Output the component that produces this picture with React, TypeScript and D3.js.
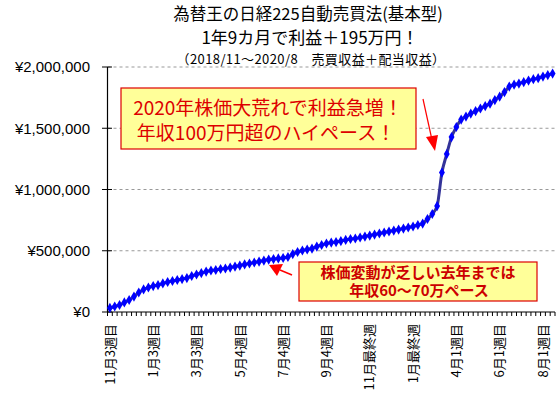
import React from 'react'
import * as d3 from 'd3'

// weekly cumulative profit (unit: 万円), 2018/11 3rd week -> 2020/8
const profitMan = [
  3.3, 4.5, 5.7, 7.8, 9.8, 12.6, 15.9, 18.4, 20.0, 21.2,
  22.0, 23.3, 24.5, 25.3, 26.1, 26.9, 27.7, 29.4, 30.6, 31.8,
  33.0, 33.9, 34.3, 35.1, 35.5, 36.3, 37.1, 37.9, 38.8, 39.6,
  40.4, 41.2, 42.0, 42.8, 43.2, 43.7, 44.1, 44.9, 47.3, 49.0,
  50.2, 51.0, 51.8, 53.4, 54.7, 55.9, 56.7, 57.1, 57.9, 58.8,
  59.6, 60.0, 60.8, 61.6, 62.4, 63.2, 64.1, 64.9, 65.7, 66.5,
  67.3, 68.1, 69.0, 69.8, 71.0, 72.2, 75.9, 80.0, 86.5, 113.8,
  128.9, 142.8, 151.0, 157.1, 159.5, 162.0, 164.0, 166.1, 168.1, 170.1,
  173.0, 175.8, 179.5, 184.0, 185.6, 186.5, 187.7, 188.9, 190.1, 190.9,
  192.2, 193.4, 194.6
]

// label shown every 9 weeks
const weekLabels = [
  '11月3週目', '1月3週目', '3月3週目', '5月4週目', '7月4週目', '9月4週目',
  '11月最終週', '1月最終週', '4月1週目', '6月1週目', '8月1週目'
]
const labelStep = 9

const yTicks = [0, 500000, 1000000, 1500000, 2000000]

const titleLines = [
  '為替王の日経225自動売買法(基本型)',
  '1年9カ月で利益＋195万円！',
  '（2018/11～2020/8　売買収益＋配当収益）'
]
const note1 = ['2020年株価大荒れで利益急増！', '年収100万円超のハイペース！']
const note2 = ['株価変動が乏しい去年までは', '年収60～70万ペース']

const W = 557
const H = 397
const jp = '"Noto Sans CJK JP", "Noto Sans", sans-serif'

export default function App() {
  const values = profitMan.map(v => v * 10000)
  const idx = values.map((_, i) => i)

  const x = d3.scaleBand<number>().domain(idx).range([107.5, 555]).padding(0)
  const cx = (i: number) => (x(i) as number) + x.bandwidth() / 2
  const y = d3.scaleLinear().domain([0, 2000000]).range([312, 67])

  const line = d3.line<number>()
    .x((_, i) => cx(i))
    .y(d => y(d))
    .curve(d3.curveMonotoneX)

  const diamond = d3.symbol().type(d3.symbolDiamond).size(30)()
  const fmt = (v: number) => '¥' + d3.format(',')(v)

  const x0 = 107.5
  const x1 = 555

  return (
    <svg width={W} height={H} style={{ position: 'absolute', left: 0, top: 0, background: '#fff' }}>
      <rect x={0} y={0} width={W} height={H} fill="#fff" />

      {/* title */}
      <g fontFamily={jp} textAnchor="middle" fill="#000">
        <text x={308} y={20} fontSize={16.5}>{titleLines[0]}</text>
        <text x={310} y={44} fontSize={17}>{titleLines[1]}</text>
        <text x={311} y={64} fontSize={13} letterSpacing={0.4}>{titleLines[2]}</text>
      </g>

      {/* gridlines */}
      {yTicks.filter(t => t > 0).map(t => (
        <line key={t} x1={x0} x2={x1} y1={y(t)} y2={y(t)}
          stroke="#999" strokeWidth={1} strokeDasharray="3,3" />
      ))}

      {/* y axis */}
      <line x1={x0} x2={x0} y1={y(2000000)} y2={y(0)} stroke="#000" strokeWidth={1.2} />
      {yTicks.map(t => (
        <g key={t}>
          <line x1={102} x2={112} y1={y(t)} y2={y(t)} stroke="#000" />
          <text x={90} y={y(t)} dy="0.36em" textAnchor="end" fontSize={15}
            fontFamily='"Liberation Sans", Arial, sans-serif' fill="#000">{fmt(t)}</text>
        </g>
      ))}

      {/* x axis */}
      <line x1={x0} x2={x1} y1={y(0)} y2={y(0)} stroke="#000" strokeWidth={1.2} />
      {idx.concat([idx.length]).map(i => {
        const px = i < idx.length ? (x(i) as number) : x1
        return <line key={i} x1={px} x2={px} y1={y(0)} y2={y(0) + 4} stroke="#000" />
      })}
      {weekLabels.map((lab, k) => {
        const i = k * labelStep
        return (
          <text key={lab} transform={`translate(${cx(i)},324) rotate(-90)`}
            textAnchor="end" dy="0.36em" fontSize={13} fontFamily={jp} fill="#000">{lab}</text>
        )
      })}

      {/* series */}
      <path d={line(values) ?? ''} fill="none" stroke="#333399" strokeWidth={3} />
      {values.map((v, i) => (
        <path key={i} d={diamond ?? ''} transform={`translate(${cx(i)},${y(v)})`} fill="#0000ff" />
      ))}

      {/* annotation 1 */}
      <rect x={121} y={88} width={295} height={61} fill="#ffff99" stroke="#dd0000" strokeWidth={1.2} />
      <g fontFamily={jp} fontSize={19} fill="#dd0000" textAnchor="middle">
        <text x={268} y={115}>{note1[0]}</text>
        <text x={266} y={140}>{note1[1]}</text>
      </g>
      <line x1={423} y1={99} x2={432} y2={140} stroke="#ff0000" strokeWidth={1.2} />
      <path d="M435,151 L426,137 L438,135 Z" fill="#ff0000" />

      {/* annotation 2 */}
      <rect x={299} y={262} width={238} height={39} fill="#ffff99" stroke="#dd0000" strokeWidth={1.2} />
      <g fontFamily={jp} fontSize={15} fontWeight="bold" fill="#cc0000" textAnchor="middle">
        <text x={418} y={278}>{note2[0]}</text>
        <text x={419} y={296}>{note2[1]}</text>
      </g>
      <line x1={292} y1={275} x2={280} y2={270} stroke="#ff0000" strokeWidth={1.5} />
      <path d="M269,265 L283,264 L277,276 Z" fill="#ff0000" />
    </svg>
  )
}
